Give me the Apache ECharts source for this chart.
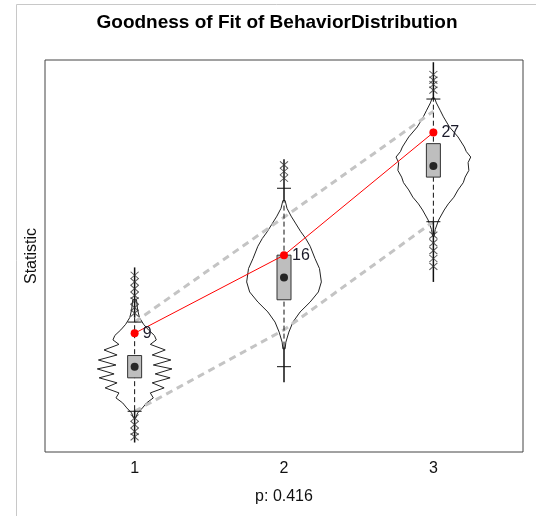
<!DOCTYPE html>
<html lang="en">

<head>
    <meta charset="UTF-8">
    <title>Goodness of Fit</title>
    <script src="https://cdn.jsdelivr.net/npm/echarts@6/dist/echarts.min.js"></script>
    <style>
        body { margin: 0; background: #fff; }
    </style>
</head>

<body>
    <div id="main" style="width: 536px;height:516px;"></div>

    <script type="text/javascript">
        // groups on the x axis
        const categories = [1, 2, 3];
        // observed statistic (red points)
        const observed = [9, 16, 27];
        // grey dashed band across groups
        const upperBand = [10, 19.4, 28.9];
        const lowerBand = [2, 9.3, 19];
        // boxplot numbers
        const q1 = [5, 12, 23];
        const q3 = [7, 16, 26];
        const medians = [6, 14, 24];
        const whiskerLow = [2, 6, 19];
        const whiskerHigh = [10, 22, 30];
        // full range of simulated values and dashed part inside the violin
        const rangeLow = [-0.8, 4.6, 13.6];
        const rangeHigh = [14.9, 24.6, 33.3];
        const innerLow = [2.1, 7.8, 19];
        const innerHigh = [10.4, 20.9, 30];
        // outliers (crosses)
        const outliers1 = [14.2, 13.6, 13.0, 12.4, 11.9, 11.3, 10.8, 1.4, 0.8, 0.2, -0.3];
        const outliers2 = [24.1, 23.5, 22.9];
        const outliers3 = [32.2, 31.7, 31.3, 30.8, 17.8, 17.1, 16.4, 15.7, 15.0];
        // violin outlines: statistic value and relative density
        const violin1Y = [12, 11.1, 10.4, 9.8, 9.3, 8.8, 8.4, 8.0, 7.5, 7.05, 6.6, 6.15, 5.8, 5.35, 5.0, 4.55, 4.1, 3.65, 3.2, 2.75, 2.3, 1.85, 1.4];
        const violin1W = [0.05, 0.08, 0.13, 0.24, 0.37, 0.53, 0.58, 0.42, 0.82, 0.47, 0.97, 0.5, 1.0, 0.55, 0.95, 0.47, 0.79, 0.42, 0.5, 0.32, 0.21, 0.08, 0.03];
        const violin2Y = [20.9, 20.2, 19.5, 18.8, 18.1, 17.5, 16.8, 15.7, 14.8, 13.6, 12.7, 11.8, 10.9, 10.0, 9.1, 8.2, 7.6];
        const violin2W = [0.03, 0.08, 0.19, 0.32, 0.45, 0.58, 0.7, 0.83, 0.95, 1.0, 0.92, 0.7, 0.43, 0.24, 0.13, 0.05, 0.03];
        const violin3Y = [30.1, 29.65, 29.0, 28.4, 27.5, 26.6, 25.7, 25.3, 24.8, 24.3, 23.6, 23.0, 22.5, 21.85, 21.2, 20.6, 20.05, 19.15, 18.3, 17.7];
        const violin3W = [0.03, 0.08, 0.18, 0.27, 0.43, 0.66, 0.83, 0.88, 1.0, 0.93, 0.95, 0.85, 0.8, 0.66, 0.55, 0.4, 0.29, 0.14, 0.05, 0.02];

        const violinY = [violin1Y, violin2Y, violin3Y];
        const violinW = [violin1W, violin2W, violin3W];
        const outliers = [outliers1, outliers2, outliers3];
        const violinHalf = 0.25;
        const font = "'Liberation Sans', Arial, sans-serif";

        const myChart = echarts.init(document.getElementById('main'));

        function violinItem(params, api) {
            const g = params.dataIndex;
            const left = [], right = [];
            for (let i = 0; i < violinY[g].length; i++) {
                left.push(api.coord([categories[g] - violinW[g][i] * violinHalf, violinY[g][i]]));
                right.push(api.coord([categories[g] + violinW[g][i] * violinHalf, violinY[g][i]]));
            }
            return {
                type: 'polygon',
                shape: { points: left.concat(right.reverse()) },
                style: { fill: 'none', stroke: '#222', lineWidth: 1 }
            };
        }

        function stemItem(params, api) {
            const g = params.dataIndex;
            const x = categories[g];
            const p = (v) => api.coord([x, v]);
            const seg = (a, b, dash) => ({
                type: 'line',
                shape: { x1: a[0], y1: a[1], x2: b[0], y2: b[1] },
                style: { stroke: '#111', lineWidth: dash ? 1 : 1.5, lineDash: dash ? [5, 3] : null }
            });
            const cap = (v) => {
                const c = p(v);
                return { type: 'line', shape: { x1: c[0] - 7, y1: c[1], x2: c[0] + 7, y2: c[1] }, style: { stroke: '#111', lineWidth: 1 } };
            };
            return {
                type: 'group',
                children: [
                    seg(p(rangeLow[g]), p(innerLow[g]), false),
                    seg(p(innerLow[g]), p(innerHigh[g]), true),
                    seg(p(innerHigh[g]), p(rangeHigh[g]), false),
                    cap(whiskerLow[g]),
                    cap(whiskerHigh[g])
                ]
            };
        }

        function boxItem(params, api) {
            const g = params.dataIndex;
            const top = api.coord([categories[g], q3[g]]);
            const bot = api.coord([categories[g], q1[g]]);
            return {
                type: 'rect',
                shape: { x: top[0] - 7, y: top[1], width: 14, height: bot[1] - top[1] },
                style: { fill: '#bebebe', stroke: '#333', lineWidth: 1 }
            };
        }

        const crossData = [];
        outliers.forEach((list, g) => list.forEach(v => crossData.push([categories[g], v])));

        const option = {
            animation: false,
            grid: { left: 45, top: 60, right: 13, bottom: 64, show: true, borderColor: '#444', borderWidth: 1 },
            xAxis: {
                type: 'value', min: 0.4, max: 3.6,
                axisLine: { show: false }, axisTick: { show: false }, splitLine: { show: false },
                axisLabel: { customValues: categories, fontSize: 16, color: '#111', fontFamily: font, margin: 9 }
            },
            yAxis: {
                type: 'value', min: -1.65, max: 33.5,
                axisLine: { show: false }, axisTick: { show: false }, splitLine: { show: false }, axisLabel: { show: false }
            },
            graphic: [
                { type: 'line', shape: { x1: 16.5, y1: 4.5, x2: 536, y2: 4.5 }, style: { stroke: '#c8c8c8', lineWidth: 1 } },
                { type: 'line', shape: { x1: 16.5, y1: 4.5, x2: 16.5, y2: 516 }, style: { stroke: '#c8c8c8', lineWidth: 1 } },
                { type: 'text', x: 277, y: 23, style: { text: 'Goodness of Fit of BehaviorDistribution', font: 'bold 19px ' + font, fill: '#000', align: 'center', verticalAlign: 'middle' } },
                { type: 'text', x: 32, y: 256, rotation: Math.PI / 2, style: { text: 'Statistic', font: '16px ' + font, fill: '#111', align: 'center', verticalAlign: 'middle' } },
                { type: 'text', x: 284, y: 497, style: { text: 'p: 0.416', font: '16px ' + font, fill: '#111', align: 'center', verticalAlign: 'middle' } }
            ],
            series: [
                { type: 'custom', renderItem: violinItem, data: categories.map(c => [c, 0]), z: 2 },
                {
                    type: 'line', data: categories.map((c, i) => [c, upperBand[i]]), symbol: 'none', z: 3,
                    lineStyle: { color: '#c4c4c4', width: 3, type: [7, 5] }
                },
                {
                    type: 'line', data: categories.map((c, i) => [c, lowerBand[i]]), symbol: 'none', z: 3,
                    lineStyle: { color: '#c4c4c4', width: 3, type: [7, 5] }
                },
                { type: 'custom', renderItem: stemItem, data: categories.map(c => [c, 0]), z: 4 },
                {
                    type: 'scatter', data: crossData, z: 5,
                    symbol: 'path://M0,0L8,7M8,0L0,7', symbolSize: [8, 7],
                    itemStyle: { color: 'none', borderColor: '#333', borderWidth: 1 }
                },
                { type: 'custom', renderItem: boxItem, data: categories.map(c => [c, 0]), z: 6 },
                {
                    type: 'scatter', data: categories.map((c, i) => [c, medians[i]]), z: 7,
                    symbol: 'circle', symbolSize: 8, itemStyle: { color: '#000' }
                },
                {
                    type: 'line', data: categories.map((c, i) => [c, observed[i]]), z: 8,
                    symbol: 'circle', symbolSize: 8,
                    lineStyle: { color: '#ff0000', width: 1 }, itemStyle: { color: '#ff0000' },
                    label: { show: true, position: 'right', distance: 4, formatter: (p) => p.value[1], fontSize: 16, color: '#1a1a2a', fontFamily: font }
                }
            ]
        };

        myChart.setOption(option);
    </script>
</body>

</html>
